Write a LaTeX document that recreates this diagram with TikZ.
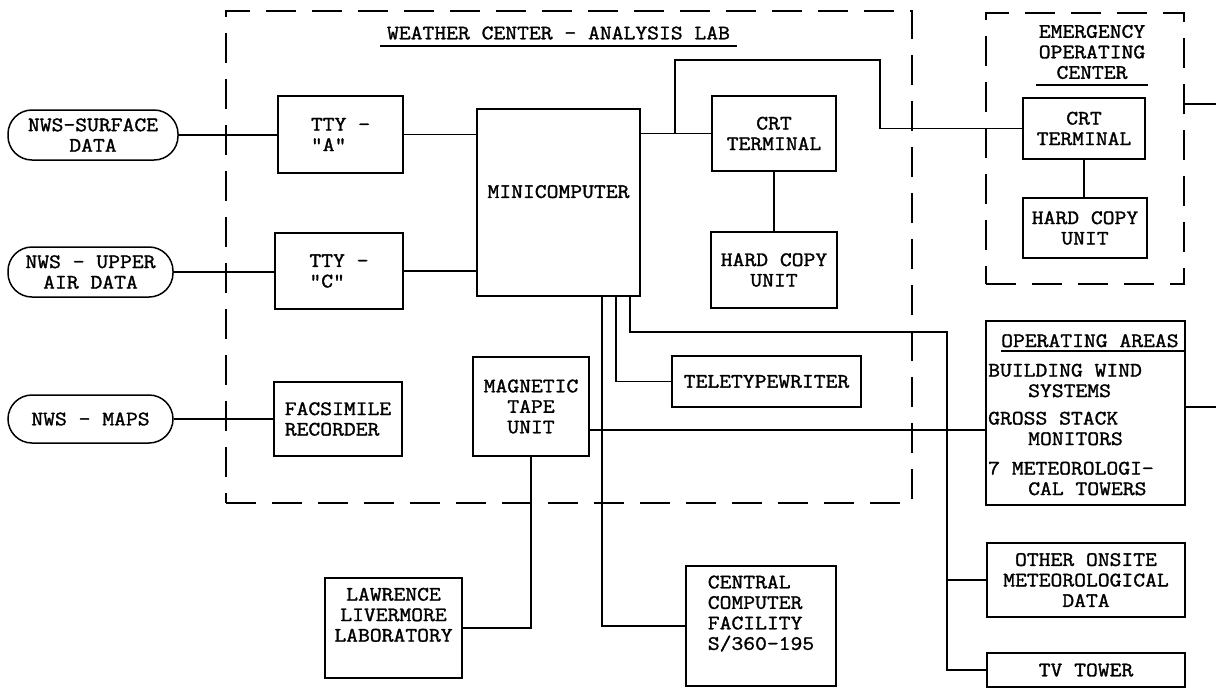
\documentclass[tikz,border=0pt]{standalone}
\usepackage{fontspec}
\newfontfamily\tw[FakeStretch=1.12, FakeBold=1.5]{Latin Modern Mono}
\usepackage{tikz}

\begin{document}
\begin{tikzpicture}[x=1pt, y=-1pt,
                box/.style={draw, line width=1.5pt, align=center, inner sep=0pt,
                font=\tw\fontsize{20.5}{20.5}\selectfont},
                source/.style={box, rounded corners=24pt},
                zone/.style={draw, line width=1.5pt, dash pattern=on 30pt off 16pt},
                heading/.style={align=center, inner sep=0pt, font=\tw\fontsize{20.5}{20.5}\selectfont},
                wire/.style={line width=1.5pt}
            ]
        \useasboundingbox (0,0) rectangle (1216,689);

        \node[zone, minimum width=686pt, minimum height=492pt] (lab) at (569,257) {};
        \node[zone, minimum width=198pt, minimum height=271pt] (eoc) at (1085,148.5) {};
        \node[heading] (labTitle) at (558.5,33) {WEATHER CENTER - ANALYSIS LAB};
        \node[heading] (eocTitle) at (1092,52) {EMERGENCY\\OPERATING\\CENTER};
        \draw[wire] (380,46) -- (737,46);
        \draw[wire] (1036,85) -- (1148,85);

        \node[source, minimum width=170pt, minimum height=50pt] (nwsSurface) at (93,135)   {NWS-SURFACE\\DATA};
        \node[source, minimum width=165pt, minimum height=50pt] (nwsUpper)   at (90.5,272) {NWS - UPPER\\AIR DATA};
        \node[source, minimum width=165pt, minimum height=48pt] (nwsMaps)    at (90.5,419) {NWS - MAPS};

        \node[box, minimum width=125pt, minimum height=77pt, align=left] (ttyA) at (340.5,134.5) {TTY -\\"A"};
        \node[box, minimum width=128pt, minimum height=76pt, align=left] (ttyC) at (339,271)     {TTY -\\"C"};
        \node[box, minimum width=128pt, minimum height=74pt, align=left] (fax)  at (338,419)     {FACSIMILE\\RECORDER};
        \node[box, minimum width=163pt, minimum height=187pt, text depth=22pt] (mini) at (558.5,202.5) {MINICOMPUTER};
        \node[box, minimum width=124pt, minimum height=75pt]  (crt)      at (774,133.5) {CRT\\TERMINAL};
        \node[box, minimum width=126pt, minimum height=76pt]  (hardCopy) at (774,270)   {HARD COPY\\UNIT};
        \node[box, minimum width=189pt, minimum height=51pt]  (ttw)      at (766.5,381.5) {TELETYPEWRITER};
        \node[box, minimum width=116pt, minimum height=99pt]  (tape)     at (531,406.5) {MAGNETIC\\TAPE\\UNIT};
        \node[box, minimum width=137pt, minimum height=100pt] (llnl)     at (393.5,628) {LAWRENCE\\LIVERMORE\\LABORATORY\\\strut};
        \node[box, minimum width=150pt, minimum height=120pt, align=left] (ccf) at (761,626) {CENTRAL\\COMPUTER\\FACILITY\\S/360-195\\\strut};

        \node[box, minimum width=122pt, minimum height=61pt] (eocCrt)      at (1084,128.5) {CRT\\TERMINAL};
        \node[box, minimum width=124pt, minimum height=60pt] (eocHardCopy) at (1085,228)   {HARD COPY\\UNIT};

        \node[box, minimum width=199pt, minimum height=184pt] (opa) at (1085.5,413) {};
        \node[heading, anchor=north west, align=left] (opaText) at (988,334)
            {\hspace*{13pt}OPERATING AREAS\\[9pt]
             BUILDING WIND\\ \hspace*{40pt}SYSTEMS\\[7pt]
             GROSS STACK\\ \hspace*{40pt}MONITORS\\[9pt]
             7 METEOROLOGI-\\ \hspace*{40pt}CAL TOWERS};
        \draw[wire] (1001,351) -- (1185,351);
        \node[box, minimum width=198pt, minimum height=74pt] (onsite)  at (1086,580) {OTHER ONSITE\\METEOROLOGICAL\\DATA};
        \node[box, minimum width=198pt, minimum height=34pt] (tvTower) at (1086,670) {TV TOWER};

        \coordinate (split)       at (675,133.5);
        \coordinate (tapCentral)  at (602,296);
        \coordinate (tapTeletype) at (616,296);
        \coordinate (tapOnsite)   at (630,296);
        \coordinate (bus)         at (947,332);
        \coordinate (tapeOut)     at (589,430);
        \coordinate (eocOut)      at (1216,104);
        \coordinate (opaOut)      at (1216,407);

        \draw[wire] (nwsSurface.east) -- (nwsSurface.east -| ttyA.west);
        \draw[wire] (ttyA.east)       -- (ttyA.east -| mini.west);
        \draw[wire] (nwsUpper.east)   -- (nwsUpper.east -| ttyC.west);
        \draw[wire] (ttyC.east)       -- (ttyC.east -| mini.west);
        \draw[wire] (nwsMaps.east)    -- (nwsMaps.east -| fax.west);
        \draw[wire] (mini.east |- crt.west) -- (crt.west);
        \draw[wire] (split) |- (880,60) |- (eocCrt.west);
        \draw[wire] (crt) -- (hardCopy);
        \draw[wire] (eocCrt.south) -- (eocCrt.south |- eocHardCopy.north);
        \draw[wire] (tapCentral)  |- (ccf.west);
        \draw[wire] (tapTeletype) |- (ttw.west);
        \draw[wire] (tapOnsite)   |- (bus) |- (tvTower.west);
        \draw[wire] (bus |- onsite.west) -- (onsite.west);
        \draw[wire] (tapeOut) -- (tapeOut -| opa.west);
        \draw[wire] (tape.south) |- (llnl.east);
        \draw[wire] (eocOut -| eoc.east) -- (eocOut);
        \draw[wire] (opaOut -| opa.east) -- (opaOut);
            \end{tikzpicture}
\end{document}
